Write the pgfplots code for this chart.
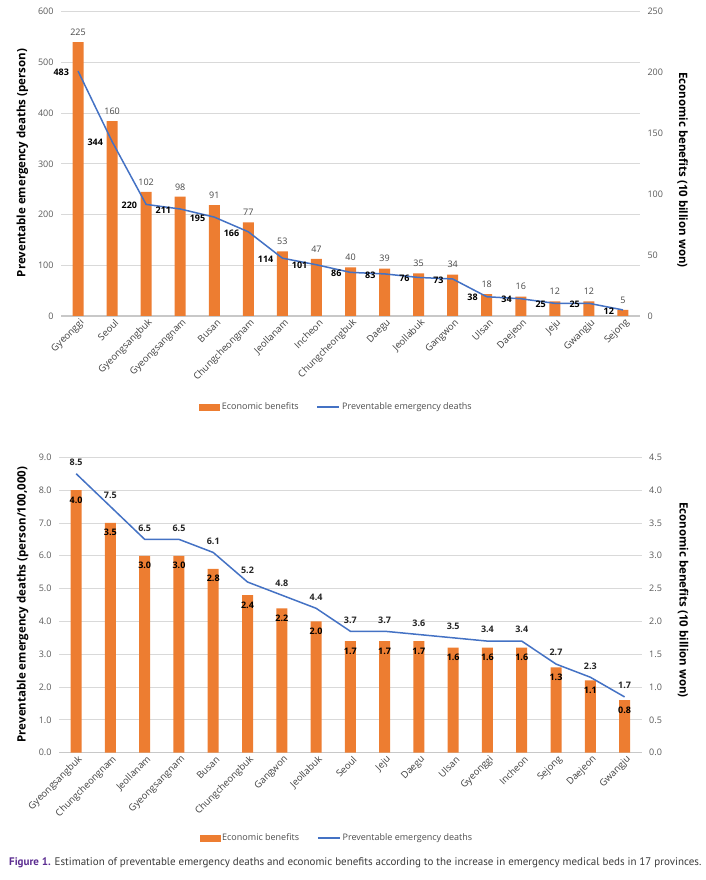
\documentclass[border=0pt]{standalone}
\usepackage{fontspec}
\setmainfont{Open Sans}
\newfontfamily\capfont{PT Sans}
\usepackage{pgfplots}
\usepackage{pgfplotstable}
\pgfplotsset{compat=1.18}
\definecolor{barorange}{HTML}{ED7D31}
\definecolor{lineblue}{HTML}{4472C4}
\definecolor{gridgray}{HTML}{D9D9D9}
\definecolor{axgray}{HTML}{C8C8C8}
\definecolor{tickgray}{HTML}{595959}
\definecolor{cappurple}{RGB}{92,45,145}
\definecolor{captext}{HTML}{3A3A3A}

\pgfplotstableread{
x bar line
0 225 483
1 160 344
2 102 220
3 98 211
4 91 195
5 77 166
6 53 114
7 47 101
8 40 86
9 39 83
10 35 76
11 34 73
12 18 38
13 16 34
14 12 25
15 12 25
16 5 12
}\topdata

\pgfplotstableread{
x bar line
0 4.0 8.5
1 3.5 7.5
2 3.0 6.5
3 3.0 6.5
4 2.8 6.1
5 2.4 5.2
6 2.2 4.8
7 2.0 4.4
8 1.7 3.7
9 1.7 3.7
10 1.7 3.6
11 1.6 3.5
12 1.6 3.4
13 1.6 3.4
14 1.3 2.7
15 1.1 2.3
16 0.8 1.7
}\botdata

\pgfplotsset{
  /pgf/number format/assume math mode=true,
  base/.style={scale only axis, anchor=south west, xmin=-0.5, xmax=16.5,
    major tick length=0pt, clip=false,
    tick label style={font=\fontsize{9}{10}\selectfont, color=tickgray}},
  gridaxis/.style={base, ymajorgrids, grid style={gridgray, line width=0.8pt},
    axis x line*=bottom, axis y line*=left,
    y axis line style={draw=none},
    x axis line style={draw=axgray, line width=1.2pt},
    xtick={0,...,16},
    xticklabel style={rotate=45, anchor=east, yshift=-7pt, xshift=3pt,
      font=\fontsize{9.5}{10}\selectfont, color=black!75},
    yticklabel style={xshift=-4pt},
    every axis y label/.style={rotate=90, anchor=center,
      font=\bfseries\fontsize{11.5}{13}\selectfont, color=black}},
  baraxis/.style={base, axis y line*=right, axis x line=none,
    y axis line style={draw=none},
    yticklabel style={xshift=4pt},
    every axis y label/.style={rotate=-90, anchor=center,
      font=\bfseries\fontsize{11.5}{13}\selectfont, color=black},
    ybar, bar width=11pt},
  lineaxis/.style={base, hide axis,
    legend columns=2,
    legend style={draw=none, fill=none, font=\fontsize{9}{10}\selectfont,
      text=black!70, anchor=center,
      /tikz/every even column/.append style={column sep=16pt}},
    legend cell align=left},
}

\begin{document}
\begin{tikzpicture}
\useasboundingbox (0,0) rectangle (706pt,880pt);

% ---------------- top chart ----------------
\begin{axis}[gridaxis, at={(61pt,564pt)}, width=579pt, height=304.3pt,
  ymin=0, ymax=600, ytick={0,100,...,600},
  xticklabels={Gyeonggi,Seoul,Gyeongsangbuk,Gyeongsangnam,Busan,Chungcheongnam,Jeollanam,Incheon,Chungcheongbuk,Daegu,Jeollabuk,Gangwon,Ulsan,Daejeon,Jeju,Gwangju,Sejong},
  ylabel={Preventable emergency deaths (person)},
  ylabel style={at={(axis description cs:-0.0665,0.503)}}]
\end{axis}

\begin{axis}[baraxis, at={(61pt,564pt)}, width=579pt, height=304.3pt,
  ymin=0, ymax=250, ytick={0,50,...,250},
  ylabel={Economic benefits (10 billion won)},
  ylabel style={at={(axis description cs:1.0734,0.48)}},
  nodes near coords,
  nodes near coords style={font=\fontsize{9}{10}\selectfont, color=black!72, anchor=south, yshift=3pt}]
\addplot[fill=barorange, draw=none] table[x=x, y=bar] {\topdata};
\end{axis}

\begin{axis}[lineaxis, at={(61pt,564pt)}, width=579pt, height=304.3pt,
  ymin=0, ymax=600,
  legend style={at={(axis description cs:0.476,-0.299)}}]
\addlegendimage{legend image code/.code={\fill[barorange] (0pt,-3pt) rectangle (20pt,3pt);}}
\addlegendentry{Economic benefits}
\addplot[lineblue, line width=1.5pt, mark=none,
  legend image code/.code={\draw[lineblue, line width=1.5pt] (0pt,0pt) -- (22pt,0pt);},
  nodes near coords,
  nodes near coords style={font=\bfseries\fontsize{9}{10}\selectfont, color=black, anchor=east, xshift=-5pt, yshift=-1pt}]
  table[x=x, y=line] {\topdata};
\addlegendentry{Preventable emergency deaths}
\end{axis}

% ---------------- bottom chart ----------------
\begin{axis}[gridaxis, at={(59pt,127.3pt)}, width=582.7pt, height=295.4pt,
  ymin=0, ymax=9, ytick={0,1,...,9},
  yticklabel style={/pgf/number format/.cd, fixed, fixed zerofill, precision=1},
  xticklabels={Gyeongsangbuk,Chungcheongnam,Jeollanam,Gyeongsangnam,Busan,Chungcheongbuk,Gangwon,Jeollabuk,Seoul,Jeju,Daegu,Ulsan,Gyeonggi,Incheon,Sejong,Daejeon,Gwangju},
  ylabel={Preventable emergency deaths (person/100,000)},
  ylabel style={at={(axis description cs:-0.0626,0.502)}}]
\end{axis}

\begin{axis}[baraxis, at={(59pt,127.3pt)}, width=582.7pt, height=295.4pt,
  ymin=0, ymax=4.5, ytick={0,0.5,...,4.5},
  yticklabel style={/pgf/number format/.cd, fixed, fixed zerofill, precision=1},
  ylabel={Economic benefits (10 billion won)},
  ylabel style={at={(axis description cs:1.0709,0.517)}},
  nodes near coords,
  nodes near coords style={font=\bfseries\fontsize{9}{10}\selectfont, color=black, anchor=north, yshift=-3pt,
    /pgf/number format/.cd, fixed, fixed zerofill, precision=1}]
\addplot[fill=barorange, draw=none] table[x=x, y=bar] {\botdata};
\end{axis}

\begin{axis}[lineaxis, at={(59pt,127.3pt)}, width=582.7pt, height=295.4pt,
  ymin=0, ymax=9,
  legend style={at={(axis description cs:0.477,-0.289)}}]
\addlegendimage{legend image code/.code={\fill[barorange] (0pt,-3pt) rectangle (20pt,3pt);}}
\addlegendentry{Economic benefits}
\addplot[lineblue, line width=1.5pt, mark=none,
  legend image code/.code={\draw[lineblue, line width=1.5pt] (0pt,0pt) -- (22pt,0pt);},
  nodes near coords,
  nodes near coords style={font=\bfseries\fontsize{9}{10}\selectfont, color=black!85, anchor=south, yshift=4pt,
    /pgf/number format/.cd, fixed, fixed zerofill, precision=1}]
  table[x=x, y=line] {\botdata};
\addlegendentry{Preventable emergency deaths}
\end{axis}

% caption
\node[anchor=base west, inner sep=0pt, font=\capfont\fontsize{11}{13}\selectfont, text=captext]
  at (9pt,14pt) {{\bfseries\color{cappurple}Figure 1.} Estimation of preventable emergency deaths and economic benefits according to the increase in emergency medical beds in 17 provinces.};
\end{tikzpicture}
\end{document}
